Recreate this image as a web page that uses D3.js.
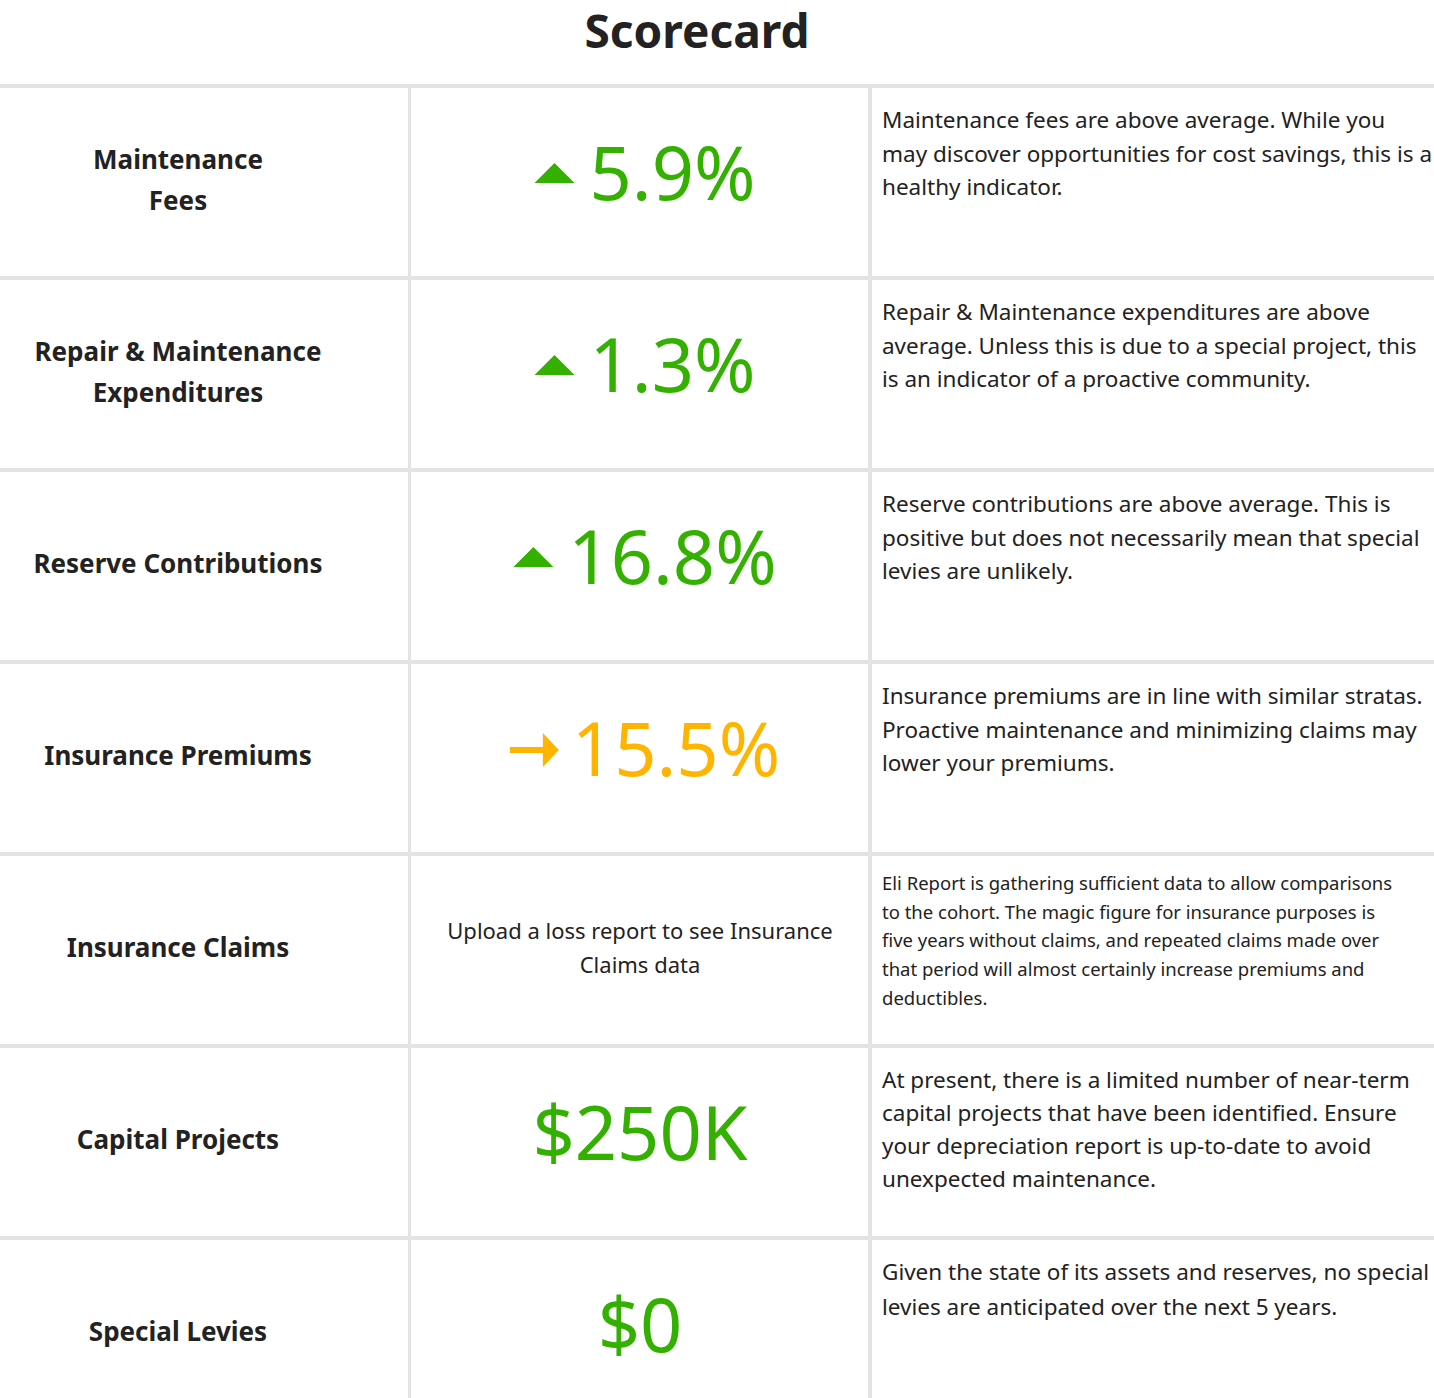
<!DOCTYPE html>
<html><head><meta charset="utf-8">
<script src="https://cdn.jsdelivr.net/npm/d3@7"></script>
<style>body{margin:0;background:#fff}svg{display:block;font-family:"Noto Sans",sans-serif}</style>
</head><body><svg id="c" width="1434" height="1398"></svg>
<script>
const title = "Scorecard";
const labels = [["Maintenance","Fees"],["Repair & Maintenance","Expenditures"],["Reserve Contributions"],["Insurance Premiums"],["Insurance Claims"],["Capital Projects"],["Special Levies"]];
const values = ["5.9%","1.3%","16.8%","15.5%",null,"$250K","$0"];
const trends = ["up","up","up","flat",null,null,null];
const status = ["good","good","good","neutral","none","good","good"];
const placeholder = ["Upload a loss report to see Insurance","Claims data"];
const descriptions = [
 ["Maintenance fees are above average. While you","may discover opportunities for cost savings, this is a","healthy indicator."],
 ["Repair & Maintenance expenditures are above","average. Unless this is due to a special project, this","is an indicator of a proactive community."],
 ["Reserve contributions are above average. This is","positive but does not necessarily mean that special","levies are unlikely."],
 ["Insurance premiums are in line with similar stratas.","Proactive maintenance and minimizing claims may","lower your premiums."],
 ["Eli Report is gathering sufficient data to allow comparisons","to the cohort. The magic figure for insurance purposes is","five years without claims, and repeated claims made over","that period will almost certainly increase premiums and","deductibles."],
 ["At present, there is a limited number of near-term","capital projects that have been identified. Ensure","your depreciation report is up-to-date to avoid","unexpected maintenance."],
 ["Given the state of its assets and reserves, no special","levies are anticipated over the next 5 years."]
];
const colors = {good:"#33b000", neutral:"#ffb400", none:"#222"};
const svg = d3.select("#c");
const top0 = 88, rowH = 192;
const y = d3.scaleLinear().domain([0,1]).range([top0, top0+rowH]);
svg.append("text").attr("x",697).attr("y",48).attr("text-anchor","middle").attr("font-size",46).attr("font-weight",700).attr("fill","#222").text(title);
const grid = "#e3e3e3";
for(let i=0;i<=labels.length;i++){
  if(i<labels.length||true) svg.append("rect").attr("x",0).attr("y",y(i)-4).attr("width",1434).attr("height",4).attr("fill",grid);
}
[[408,3],[868,4]].forEach(([x,w])=>svg.append("rect").attr("x",x).attr("y",84).attr("width",w).attr("height",1398-84).attr("fill",grid));
labels.forEach((lab,i)=>{
  const t=y(i);
  const cy=t+rowH/2-4;
  const g=svg.append("text").attr("text-anchor","middle").attr("font-size",26).attr("font-weight",700).attr("fill","#222");
  const start = cy - (lab.length-1)*41/2 + 9;
  lab.forEach((l,j)=>g.append("tspan").attr("x",178).attr("y",start+j*41).text(l));
  // value
  if(values[i]){
    const col=colors[status[i]];
    const vg=svg.append("g");
    const base=t+112;
    const txt=vg.append("text").attr("font-size",74).attr("fill",col).attr("y",base).text(values[i]);
    let aw=0;
    if(trends[i]==="up"){aw=55;vg.append("path").attr("d","M0,0 L20,-20 L40,0 Z").attr("transform",`translate(0,${base-17})`).attr("fill",col);}
    if(trends[i]==="flat"){aw=62;vg.append("path").attr("d","M0,-3 L33,-3 L33,-17 L49,0 L33,17 L33,3 L0,3 Z").attr("transform",`translate(0,${base-26})`).attr("fill",col);}
    txt.attr("x",aw);
    const w=aw+txt.node().getComputedTextLength();
    vg.attr("transform",`translate(${640-w/2+ (aw?5:0)},0)`);
  } else {
    const pt=svg.append("text").attr("text-anchor","middle").attr("font-size",22).attr("fill","#222");
    placeholder.forEach((l,j)=>pt.append("tspan").attr("x",640).attr("y",t+rowH/2-21+j*34+8).text(l));
  }
  // description
  const d=descriptions[i];
  const small=d.length>4;
  const fs=small?18.5:22.5, lh=small?28.7:(i===5?33:(i===6?35:33.5));
  const dt=svg.append("text").attr("font-size",fs).attr("fill","#222");
  const first=t+(small?34:40);
  d.forEach((l,j)=>dt.append("tspan").attr("x",882).attr("y",first+j*lh).text(l));
});
</script></body></html>
